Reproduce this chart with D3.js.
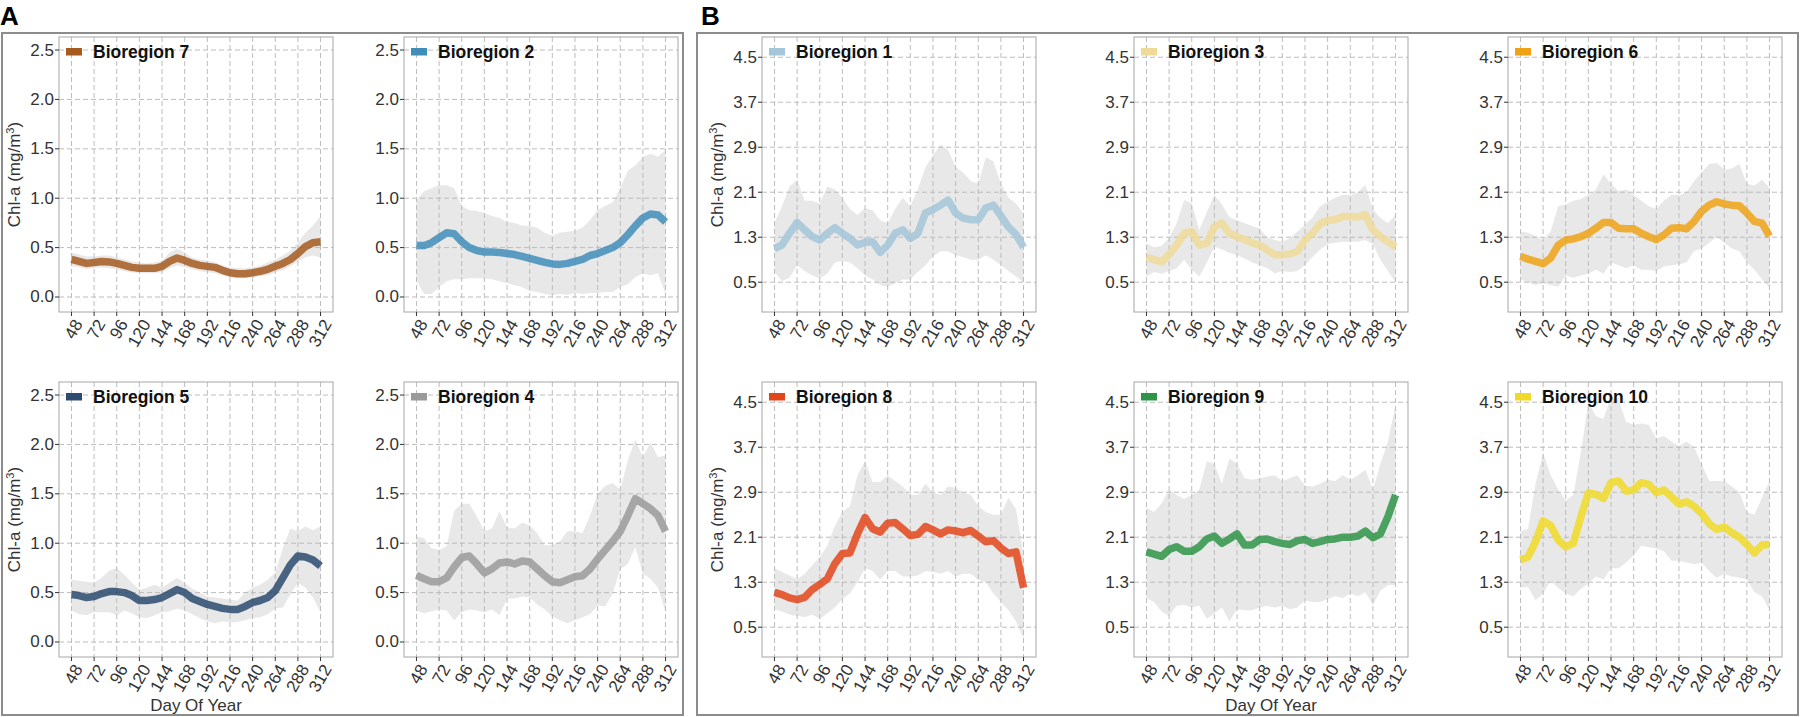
<!DOCTYPE html>
<html>
<head>
<meta charset="utf-8">
<script src="https://cdn.jsdelivr.net/npm/d3@7"></script>
<style>
body { margin: 0; background: #fff; }
text { font-family: "Liberation Sans", Arial, sans-serif; }
</style>
</head>
<body>
<div id="chart"></div>
<script>
// day of year (8-day steps)
var days = [48,56,64,72,80,88,96,104,112,120,128,136,144,152,160,168,176,184,192,200,208,216,224,232,240,248,256,264,272,280,288,296,304,312];
var xTicks = [48,72,96,120,144,168,192,216,240,264,288,312];
var yTicksA = [0, 0.5, 1, 1.5, 2, 2.5];
var yTicksB = [0.5, 1.3, 2.1, 2.9, 3.7, 4.5];

// panel A
var br7Mean = [0.38,0.36,0.34,0.35,0.36,0.355,0.34,0.32,0.30,0.29, 0.29,0.29,0.31,0.36,0.395,0.37,0.34,0.32,0.31,0.30, 0.27,0.245,0.235,0.235,0.245,0.26,0.28,0.31,0.34,0.38, 0.44,0.51,0.55,0.56];
var br7Hi   = [0.45,0.43,0.41,0.41,0.42,0.42,0.40,0.38,0.36,0.35, 0.34,0.35,0.37,0.45,0.49,0.45,0.40,0.38,0.37,0.35, 0.32,0.30,0.29,0.29,0.30,0.32,0.35,0.38,0.42,0.47, 0.55,0.65,0.72,0.82];
var br7Lo   = [0.31,0.30,0.28,0.29,0.30,0.29,0.28,0.26,0.25,0.24, 0.24,0.24,0.25,0.29,0.32,0.30,0.28,0.26,0.25,0.24, 0.22,0.20,0.19,0.19,0.20,0.21,0.22,0.25,0.27,0.31, 0.36,0.40,0.42,0.40];

var br2Mean = [0.52,0.52,0.55,0.60,0.65,0.64,0.56,0.50,0.47,0.455, 0.455,0.45,0.44,0.43,0.41,0.39,0.37,0.35,0.335,0.33, 0.34,0.36,0.38,0.42,0.44,0.47,0.50,0.55,0.63,0.72, 0.80,0.84,0.83,0.76];
var br2Hi   = [0.98,1.07,1.10,1.13,1.13,1.10,0.92,0.88,0.87,0.85, 0.82,0.80,0.76,0.75,0.72,0.72,0.70,0.65,0.62,0.65, 0.66,0.67,0.70,0.78,0.88,0.92,0.96,1.10,1.28,1.33, 1.42,1.45,1.42,1.49];
var br2Lo   = [0.17,0.03,0.03,0.10,0.16,0.18,0.18,0.19,0.19,0.19, 0.18,0.16,0.14,0.12,0.10,0.06,0.05,0.03,0.02,0.03, 0.02,0.04,0.03,0.04,0.04,0.05,0.05,0.10,0.13,0.20, 0.24,0.22,0.24,0.03];

var br5Mean = [0.48,0.47,0.45,0.46,0.49,0.51,0.51,0.50,0.47,0.42, 0.42,0.43,0.45,0.49,0.53,0.50,0.44,0.41,0.38,0.36, 0.34,0.33,0.33,0.36,0.40,0.42,0.45,0.52,0.65,0.78, 0.87,0.86,0.83,0.77];
var br5Hi   = [0.63,0.62,0.61,0.60,0.65,0.72,0.75,0.68,0.60,0.53, 0.55,0.58,0.55,0.60,0.65,0.60,0.54,0.50,0.46,0.45, 0.44,0.43,0.42,0.50,0.55,0.58,0.63,0.70,0.95,1.15, 1.12,1.17,1.13,1.17];
var br5Lo   = [0.32,0.28,0.27,0.30,0.30,0.30,0.27,0.32,0.29,0.25, 0.24,0.27,0.30,0.31,0.34,0.32,0.28,0.24,0.21,0.19, 0.21,0.20,0.20,0.22,0.24,0.25,0.28,0.34,0.35,0.48, 0.60,0.55,0.45,0.30];

var br4Mean = [0.675,0.64,0.61,0.61,0.65,0.76,0.855,0.87,0.79,0.70, 0.74,0.80,0.81,0.79,0.82,0.81,0.74,0.67,0.61,0.60, 0.63,0.66,0.67,0.74,0.84,0.93,1.02,1.12,1.28,1.45, 1.40,1.35,1.28,1.12];
var br4Hi   = [1.07,1.05,0.95,0.93,0.97,1.33,1.40,1.40,1.27,1.12, 1.15,1.32,1.16,1.15,1.21,1.18,1.10,0.98,0.98,1.02, 1.12,1.12,1.10,1.28,1.50,1.58,1.61,1.54,1.84,2.05, 1.87,2.02,1.87,1.89];
var br4Lo   = [0.32,0.29,0.31,0.33,0.32,0.22,0.30,0.33,0.32,0.30, 0.33,0.27,0.44,0.44,0.46,0.45,0.38,0.33,0.26,0.22, 0.19,0.22,0.25,0.28,0.37,0.36,0.49,0.74,0.79,0.96, 0.69,0.64,0.55,0.30];

// panel B
var br1Mean = [1.10,1.16,1.37,1.56,1.43,1.31,1.25,1.37,1.47,1.37, 1.28,1.16,1.21,1.22,1.03,1.16,1.37,1.43,1.28,1.37, 1.73,1.79,1.87,1.96,1.73,1.64,1.61,1.61,1.82,1.87, 1.68,1.48,1.35,1.12];
var br1Hi   = [1.55,1.85,2.20,2.32,1.95,1.95,1.90,2.20,2.15,2.00, 1.80,1.70,1.82,1.78,1.60,1.55,1.80,2.00,1.85,2.15, 2.55,2.75,2.95,2.85,2.55,2.45,2.30,2.25,2.72,2.65, 2.25,2.00,1.90,1.72];
var br1Lo   = [0.68,0.52,0.58,0.80,0.70,0.62,0.57,0.65,0.85,0.88, 0.85,0.75,0.62,0.55,0.45,0.42,0.48,0.55,0.55,0.68, 0.80,0.96,1.05,1.05,0.98,0.95,0.90,0.90,0.98,0.90, 0.80,0.70,0.60,0.50];

var br3Mean = [0.94,0.90,0.86,0.99,1.16,1.37,1.40,1.16,1.19,1.49, 1.55,1.37,1.31,1.26,1.20,1.16,1.07,0.99,0.99,1.00, 1.05,1.25,1.37,1.54,1.60,1.61,1.67,1.67,1.66,1.70, 1.43,1.31,1.22,1.13];
var br3Hi   = [1.19,1.12,1.15,1.28,1.55,1.96,1.90,1.43,1.75,2.05, 1.88,1.65,1.60,1.55,1.50,1.45,1.30,1.25,1.22,1.28, 1.40,1.52,1.65,1.85,1.93,2.00,2.05,2.05,2.10,2.23, 1.80,1.64,1.55,1.70];
var br3Lo   = [0.60,0.68,0.65,0.70,0.75,0.90,0.72,0.60,0.85,1.13, 1.08,1.02,0.98,0.92,0.85,0.80,0.75,0.66,0.70,0.68, 0.70,0.80,0.95,1.08,1.18,1.20,1.22,1.22,1.22,1.25, 1.18,0.90,0.70,0.50];

var br6Mean = [0.96,0.91,0.87,0.83,0.93,1.16,1.25,1.27,1.31,1.37, 1.46,1.56,1.56,1.46,1.45,1.45,1.37,1.31,1.26,1.34, 1.46,1.47,1.45,1.58,1.76,1.87,1.93,1.89,1.87,1.86, 1.73,1.58,1.55,1.32];
var br6Hi   = [1.40,1.38,1.32,1.25,1.40,1.85,1.88,1.95,1.98,2.05, 2.15,2.42,2.25,2.12,2.15,2.05,1.95,1.85,1.80,1.95, 2.05,2.05,2.10,2.30,2.45,2.60,2.62,2.50,2.52,2.60, 2.25,2.22,2.32,2.18];
var br6Lo   = [0.55,0.50,0.45,0.48,0.45,0.42,0.62,0.58,0.62,0.65, 0.72,0.65,0.85,0.80,0.75,0.80,0.72,0.72,0.70,0.78, 0.80,0.82,0.85,1.05,1.10,1.20,1.30,1.20,1.10,1.05, 0.85,0.72,0.55,0.40];

var br8Mean = [1.12,1.08,1.02,0.99,1.03,1.17,1.26,1.36,1.63,1.81, 1.82,2.16,2.45,2.25,2.19,2.35,2.36,2.25,2.13,2.15, 2.29,2.23,2.16,2.23,2.21,2.18,2.22,2.12,2.02,2.04, 1.91,1.81,1.84,1.20];
var br8Hi   = [1.55,1.48,1.42,1.35,1.45,1.60,1.75,1.95,2.30,2.55, 2.65,3.20,3.45,3.08,3.08,3.20,3.10,3.00,2.85,2.85, 3.05,2.90,2.85,3.00,2.98,2.90,2.85,2.65,2.55,2.50, 2.50,2.80,2.60,1.80];
var br8Lo   = [0.82,0.78,0.72,0.70,0.68,0.72,0.65,0.75,0.85,1.00, 1.10,1.30,1.55,1.50,1.35,1.50,1.50,1.40,1.40,1.42, 1.50,1.48,1.45,1.50,1.40,1.45,1.45,1.35,1.30,1.10, 0.95,0.80,0.60,0.30];

var br9Mean = [1.84,1.80,1.76,1.88,1.93,1.85,1.85,1.93,2.07,2.12, 1.99,2.07,2.16,1.96,1.96,2.06,2.07,2.02,1.99,1.97, 2.04,2.06,1.99,2.02,2.06,2.07,2.10,2.10,2.12,2.21, 2.09,2.16,2.47,2.85];
var br9Hi   = [2.62,2.55,2.70,2.95,2.85,2.78,2.85,2.95,3.45,3.40, 3.05,3.50,3.40,3.15,3.12,3.15,3.18,3.20,3.10,3.15, 3.20,3.02,3.00,3.05,3.12,3.10,3.20,3.12,3.20,3.30, 2.95,3.40,3.80,4.45];
var br9Lo   = [1.02,0.95,0.78,0.70,0.88,0.90,0.85,0.88,0.65,0.75, 0.85,0.60,0.82,0.80,0.80,0.85,0.88,0.85,0.88,0.82, 0.85,0.98,0.95,0.95,1.00,1.05,1.02,1.10,1.05,1.12, 0.90,1.15,1.25,1.25];

var br10Mean = [1.70,1.75,2.02,2.39,2.31,2.05,1.93,1.99,2.46,2.89, 2.86,2.79,3.07,3.10,2.92,2.94,3.07,3.04,2.89,2.94, 2.82,2.69,2.73,2.65,2.52,2.34,2.24,2.28,2.18,2.10, 1.97,1.82,1.96,1.97];
var br10Hi   = [2.20,2.25,3.05,3.60,3.20,2.95,2.75,2.85,3.60,4.50, 4.25,4.20,4.60,4.55,4.15,4.10,4.12,4.10,3.85,3.90, 3.80,3.72,3.80,3.70,3.40,3.10,3.10,3.10,3.00,2.90, 2.55,2.50,2.80,3.10];
var br10Lo   = [1.20,1.22,0.98,1.10,1.32,1.20,1.10,1.05,1.18,1.28, 1.40,1.35,1.55,1.55,1.65,1.78,1.95,1.92,1.90,1.85, 1.68,1.68,1.65,1.62,1.65,1.50,1.38,1.45,1.40,1.38, 1.35,1.12,1.05,0.80];

var width = 1801, height = 717;
var pw = 274, ph = 275;                       // plot area size
var colLeft = [59, 404, 762, 1134, 1508];
var rowTop = [37, 382];

var panels = [
    { name: "Bioregion 7",  mean: br7Mean,  lo: br7Lo,  hi: br7Hi,  color: "#a65a1e", col: 0, row: 0, grp: "A" },
    { name: "Bioregion 2",  mean: br2Mean,  lo: br2Lo,  hi: br2Hi,  color: "#418dba", col: 1, row: 0, grp: "A" },
    { name: "Bioregion 5",  mean: br5Mean,  lo: br5Lo,  hi: br5Hi,  color: "#2c4b70", col: 0, row: 1, grp: "A" },
    { name: "Bioregion 4",  mean: br4Mean,  lo: br4Lo,  hi: br4Hi,  color: "#9a9a9a", col: 1, row: 1, grp: "A" },
    { name: "Bioregion 1",  mean: br1Mean,  lo: br1Lo,  hi: br1Hi,  color: "#a3c6d8", col: 2, row: 0, grp: "B" },
    { name: "Bioregion 3",  mean: br3Mean,  lo: br3Lo,  hi: br3Hi,  color: "#eedb98", col: 3, row: 0, grp: "B" },
    { name: "Bioregion 6",  mean: br6Mean,  lo: br6Lo,  hi: br6Hi,  color: "#eea214", col: 4, row: 0, grp: "B" },
    { name: "Bioregion 8",  mean: br8Mean,  lo: br8Lo,  hi: br8Hi,  color: "#e2451a", col: 2, row: 1, grp: "B" },
    { name: "Bioregion 9",  mean: br9Mean,  lo: br9Lo,  hi: br9Hi,  color: "#2e9448", col: 3, row: 1, grp: "B" },
    { name: "Bioregion 10", mean: br10Mean, lo: br10Lo, hi: br10Hi, color: "#f0da26", col: 4, row: 1, grp: "B" }
];

var svg = d3.select("#chart").append("svg")
    .attr("width", width)
    .attr("height", height);

// outer frames for A and B
svg.append("rect").attr("x", 2).attr("y", 33).attr("width", 681).attr("height", 682)
    .attr("fill", "none").attr("stroke", "#8c8c8c").attr("stroke-width", 2);
svg.append("rect").attr("x", 697).attr("y", 33).attr("width", 1101).attr("height", 682)
    .attr("fill", "none").attr("stroke", "#8c8c8c").attr("stroke-width", 2);

svg.append("text").attr("x", 0).attr("y", 25).attr("font-size", 26).attr("font-weight", "bold").text("A");
svg.append("text").attr("x", 701).attr("y", 25).attr("font-size", 26).attr("font-weight", "bold").text("B");

var x = d3.scaleLinear().domain([34.8, 325.2]).range([0, pw]);
var yA = d3.scaleLinear().domain([-0.152, 2.632]).range([ph, 0]);
var yB = d3.scaleLinear().domain([-0.03, 4.86]).range([ph, 0]);

panels.forEach(function (p, i) {
    var y = p.grp === "A" ? yA : yB;
    var yTicks = p.grp === "A" ? yTicksA : yTicksB;
    var g = svg.append("g").attr("transform", "translate(" + colLeft[p.col] + "," + rowTop[p.row] + ")");

    g.append("clipPath").attr("id", "clip" + i)
        .append("rect").attr("width", pw).attr("height", ph);

    // dashed grid
    g.append("g").selectAll("line").data(xTicks).enter().append("line")
        .attr("x1", function (d) { return x(d); }).attr("x2", function (d) { return x(d); })
        .attr("y1", 0).attr("y2", ph)
        .attr("stroke", "#bdbdbd").attr("stroke-width", 1).attr("stroke-dasharray", "5,3");
    g.append("g").selectAll("line").data(yTicks).enter().append("line")
        .attr("x1", 0).attr("x2", pw)
        .attr("y1", function (d) { return y(d); }).attr("y2", function (d) { return y(d); })
        .attr("stroke", "#bdbdbd").attr("stroke-width", 1).attr("stroke-dasharray", "5,3");

    var rows = days.map(function (d, k) { return { d: d, m: p.mean[k], lo: p.lo[k], hi: p.hi[k] }; });

    var plot = g.append("g").attr("clip-path", "url(#clip" + i + ")");
    plot.append("path").datum(rows)
        .attr("d", d3.area().x(function (r) { return x(r.d); })
            .y0(function (r) { return y(r.lo); }).y1(function (r) { return y(r.hi); }))
        .attr("fill", "#b8b8b8").attr("fill-opacity", 0.33);
    plot.append("path").datum(rows)
        .attr("d", d3.line().x(function (r) { return x(r.d); }).y(function (r) { return y(r.m); }))
        .attr("fill", "none").attr("stroke", p.color).attr("stroke-opacity", 0.85)
        .attr("stroke-width", 7.5).attr("stroke-linejoin", "round");

    // panel border
    g.append("rect").attr("width", pw).attr("height", ph)
        .attr("fill", "none").attr("stroke", "#a6a6a6").attr("stroke-width", 1);

    // legend inside
    g.append("rect").attr("x", 7).attr("y", 11).attr("width", 16).attr("height", 7.5).attr("fill", p.color);
    g.append("text").attr("x", 34).attr("y", 15).attr("dominant-baseline", "central")
        .attr("font-size", 17.5).attr("font-weight", "bold").attr("fill", "#111").text(p.name);

    // y axis
    var ya = g.append("g").selectAll("g").data(yTicks).enter().append("g")
        .attr("transform", function (d) { return "translate(0," + y(d) + ")"; });
    ya.append("line").attr("x1", -4).attr("x2", 0).attr("stroke", "#333");
    ya.append("text").attr("x", -5).attr("text-anchor", "end").attr("dominant-baseline", "central")
        .attr("font-size", 17).attr("fill", "#333").text(function (d) { return d3.format(".1f")(d); });

    // x axis
    var xa = g.append("g").selectAll("g").data(xTicks).enter().append("g")
        .attr("transform", function (d) { return "translate(" + x(d) + "," + ph + ")"; });
    xa.append("line").attr("y1", 0).attr("y2", 4).attr("stroke", "#333");
    xa.append("text").attr("text-anchor", "end").attr("dominant-baseline", "central")
        .attr("transform", "translate(7,9) rotate(-60)")
        .attr("font-size", 17).attr("fill", "#333").text(function (d) { return d; });

    // axis titles
    if (p.col === 0 || p.col === 2) {
        var t = g.append("text").attr("text-anchor", "middle")
            .attr("transform", "translate(-39," + (ph / 2) + ") rotate(-90)")
            .attr("font-size", 17).attr("fill", "#333");
        t.append("tspan").text("Chl-a (mg/m");
        t.append("tspan").attr("font-size", 11).attr("dy", -6).text("3");
        t.append("tspan").attr("dy", 6).text(")");
    }
    if (p.row === 1 && (p.col === 0 || p.col === 3)) {
        g.append("text").attr("x", pw / 2).attr("y", ph + 54).attr("text-anchor", "middle")
            .attr("font-size", 17).attr("fill", "#333").text("Day Of Year");
    }
});
</script>
</body>
</html>
